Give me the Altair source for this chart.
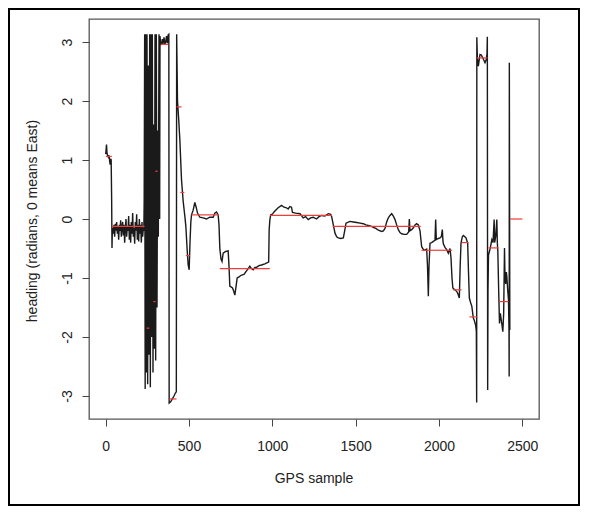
import altair as alt
import pandas as pd

# ---- heading trace (GPS sample index, heading in radians) ----
sample = [0, 2, 5, 8, 12, 16, 20, 24, 27, 30, 33, 36, 38, 40,
          42, 46, 50, 54, 58, 62, 66, 70, 74, 78, 82, 86, 90, 94, 98, 102, 106, 110,
          114, 118, 122, 126, 130, 134, 138, 142, 146, 150, 154, 158, 162, 166, 170,
          174, 178, 182, 186, 190, 194, 198, 202, 206, 210, 214, 218, 222, 226,
          229, 231, 234, 237, 240, 244, 248, 252, 256, 260, 264, 268, 272, 276, 280,
          284, 288, 292, 296, 300, 304, 308, 312, 316, 320, 324, 326,
          329, 335, 340, 345, 350, 355, 360, 365, 370, 375,
          379, 381, 390, 400, 410, 418, 424, 426, 431, 438, 445, 455, 465, 475, 481,
          489, 495, 501, 506, 511, 515, 525, 535, 543, 551, 565, 585, 605, 625, 645,
          655, 665, 675, 680, 685, 692, 698, 705, 720, 735, 740, 745, 752, 761, 768,
          775, 782, 789, 800, 815, 830, 845, 855, 865, 875, 885, 895, 905, 920, 935,
          955, 970, 978, 981, 985, 990, 1000, 1010, 1020, 1035, 1055, 1070, 1085,
          1095, 1105, 1115, 1121, 1140, 1166, 1185, 1200, 1215, 1230, 1245, 1265,
          1280, 1296, 1315, 1336, 1350, 1356, 1366, 1376, 1386, 1396, 1411, 1426,
          1434, 1442, 1466, 1486, 1506, 1526, 1546, 1561, 1576, 1591, 1606, 1621,
          1636, 1656, 1666, 1676, 1686, 1696, 1706, 1716, 1726, 1736, 1746, 1756,
          1766, 1776, 1791, 1806, 1818, 1822, 1826, 1836, 1846, 1856, 1866, 1876,
          1886, 1896, 1910, 1926, 1931, 1936, 1940, 1946, 1956, 1966, 1976, 1980,
          1984, 1996, 2006, 2014, 2020, 2024, 2026, 2036, 2046, 2056, 2066, 2072,
          2078, 2083, 2095, 2107, 2115, 2122, 2127, 2132, 2140, 2146, 2155, 2162,
          2172, 2177, 2182, 2190, 2197, 2206, 2212, 2220, 2224, 2226, 2227, 2230,
          2236, 2246, 2254, 2261, 2268, 2276, 2283, 2288, 2290, 2292, 2294, 2297,
          2307, 2317, 2324, 2331, 2334, 2340, 2347, 2350, 2353, 2358, 2363, 2368,
          2373, 2378, 2383, 2388, 2393, 2396, 2400, 2404, 2407, 2412, 2417, 2420,
          2421, 2422, 2423, 2425]

heading = [1.10, 1.15, 1.26, 1.12, 1.07, 1.05, 1.08, 0.98, 0.92, 1.02, 1.00, 0.30, -0.49, -0.20,
           -0.15, -0.25, -0.10, -0.30, -0.08, -0.20, -0.05, -0.25, -0.12, -0.35, -0.10, -0.20,
           -0.02, -0.30, -0.15, -0.05, -0.28, -0.10, -0.40, -0.15, 0.00, -0.30, -0.12, -0.20,
           0.05, -0.35, -0.10, -0.40, -0.05, -0.25, 0.10, -0.30, -0.15, -0.42, -0.05, -0.20,
           0.08, -0.35, -0.10, -0.38, 0.00, -0.25, -0.10, -0.40, -0.05, -0.30, -0.15,
           -0.20, 0.30, 3.13, -2.88, 3.13, -2.60, 3.13, -2.80, 2.60, -2.30, 3.13, -2.85,
           3.13, -2.00, 3.13, -2.60, 1.60, -2.20, 3.13, -2.40, 3.13, -1.50, 1.50, -0.30,
           3.13, 0.00, 3.10,
           3.00, 2.95, 3.05, 2.97, 3.08, 2.96, 3.00, 3.10, 2.98, 3.12,
           3.13, -3.12, -3.10, -3.05, -3.00, -2.95, -2.93, 3.13, 2.00, 1.70, 1.35, 0.67,
           0.30, 0.05, -0.12, -0.52, -0.78, -0.86, -0.40, -0.05, 0.07, 0.15, 0.28, 0.20,
           0.10, 0.03, 0.02, 0.00, 0.03, 0.03, 0.10, 0.12, 0.07, -0.10, -0.50, -0.68,
           -0.72, -0.58, -0.55, -0.54, -0.80, -1.14, -1.15, -1.17, -1.22, -1.29, -1.15,
           -1.00, -0.98, -0.95, -0.94, -0.88, -0.84, -0.80, -0.84, -0.86, -0.82, -0.82,
           -0.79, -0.78, -0.76, -0.74, -0.73, -0.18, -0.02, 0.07, 0.08, 0.12, 0.15, 0.19,
           0.23, 0.20, 0.19, 0.17, 0.21, 0.20, 0.11, 0.10, 0.09, 0.02, 0.04, -0.01, 0.02,
           0.03, 0.00, 0.04, 0.06, 0.05, 0.09, 0.08, 0.04, -0.10, -0.24, -0.30, -0.32,
           -0.33, -0.32, -0.20, -0.07, -0.04, -0.05, -0.06, -0.07, -0.08, -0.10, -0.11,
           -0.12, -0.14, -0.16, -0.19, -0.21, -0.20, -0.16, -0.05, 0.02, 0.06, 0.09,
           0.05, -0.01, -0.10, -0.18, -0.23, -0.25, -0.26, -0.26, -0.22, 0.00, -0.20,
           -0.18, -0.15, -0.10, -0.08, -0.10, -0.20, -0.47, -0.53, -0.51, -0.80, -1.31,
           -0.80, -0.41, -0.40, -0.38, -0.36, -0.01, -0.35, -0.33, -0.32, -0.30, -0.18,
           -0.38, -0.42, -0.48, -0.52, -0.58, -0.50, -0.66, -1.00, -1.17, -1.20, -1.23,
           -1.28, -1.34, -0.80, -0.41, -0.30, -0.28, -0.30, -0.32, -0.41, -0.90, -1.34,
           -1.42, -1.48, -1.68, -1.72, -1.80, -1.90, -3.11, 3.08, 2.75, 2.59, 2.79, 2.78,
           2.74, 2.70, 2.65, 2.70, 2.80, 3.09, -2.90, -1.20, -0.61, -0.50, -0.35, -0.40,
           -0.01, -0.40, -0.30, -0.01, -0.40, -0.55, -1.20, -1.77, -1.60, -1.70, -1.80,
           -1.91, -1.60, -0.49, -1.00, -1.10, -0.90, -0.97, -1.20, -1.37, -1.90, -2.67,
           2.65, 1.00, -1.88]

# ---- piecewise-constant fit (red segments) ----
seg_start = [2, 37, 245, 286, 298, 330, 383, 425, 448, 481, 515, 685, 986, 1362,
             1895, 2083, 2137, 2183, 2227, 2297, 2363, 2427]
seg_end = [37, 233, 262, 300, 312, 375, 425, 455, 472, 505, 680, 985, 1358, 1890,
           2078, 2135, 2177, 2230, 2291, 2357, 2417, 2500]
seg_value = [1.06, -0.125, -1.85, -1.40, 0.81, 2.96, -3.05, 1.90, 0.45, -0.62, 0.07,
             -0.84, 0.06, -0.125, -0.53, -1.20, -0.40, -1.66, 2.73, -0.49, -1.40, 0.0]

x_ticks = [0, 500, 1000, 1500, 2000, 2500]
y_ticks = [-3, -2, -1, 0, 1, 2, 3]

W, H = 450, 400
FONT = "Liberation Sans"

trace = pd.DataFrame({"sample": sample, "heading": heading})
segs = pd.DataFrame({"start": seg_start, "end": seg_end, "value": seg_value})

xscale = alt.Scale(domain=[-100, 2600], nice=False, zero=False)
yscale = alt.Scale(domain=[-3.39, 3.39], nice=False, zero=False)

line = alt.Chart(trace).mark_line(color="#1a1a1a", strokeWidth=1.4).encode(
    x=alt.X("sample:Q", scale=xscale,
            axis=alt.Axis(values=x_ticks, title=None, grid=False, domain=False,
                          tickSize=7, tickColor="#444444", labelFont=FONT,
                          labelFontSize=14, labelColor="#222222",
                          labelExpr="'' + datum.value",
                          labelBaseline="top", labelPadding=13, labelFlush=False)),
    y=alt.Y("heading:Q", scale=yscale,
            axis=alt.Axis(values=y_ticks, title=None, grid=False, domain=False,
                          tickSize=7, tickColor="#444444", labelFont=FONT,
                          labelFontSize=14, labelColor="#222222", labelAngle=270,
                          labelExpr="'' + datum.value",
                          labelAlign="center", labelBaseline="alphabetic",
                          labelPadding=11, labelFlush=False)),
    order="sample:Q",
)

red = alt.Chart(segs).mark_rule(color="#ee3b3b", strokeWidth=1.2).encode(
    x=alt.X("start:Q", scale=xscale),
    x2="end:Q",
    y=alt.Y("value:Q", scale=yscale),
)

one = alt.Data(values=[{"k": 1}])

xtitle = alt.Chart(one).mark_text(
    text="GPS sample", font=FONT, fontSize=14, color="#222222",
    align="center", baseline="alphabetic"
).encode(x=alt.value(W / 2), y=alt.value(464))

ytitle = alt.Chart(one).mark_text(
    text="heading (radians, 0 means East)", font=FONT, fontSize=14, color="#222222",
    align="center", baseline="alphabetic", angle=270
).encode(x=alt.value(-52), y=alt.value(202))

frame = alt.Chart(one).mark_rect(
    filled=False, stroke="#000000", strokeWidth=2
).encode(x=alt.value(-80), x2=alt.value(W + 40), y=alt.value(-10), y2=alt.value(H + 86))

chart = alt.layer(line, red, xtitle, ytitle, frame).properties(
    width=W, height=H,
    autosize=alt.AutoSizeParams(type="none"),
    padding={"left": 81, "top": 11, "right": 41, "bottom": 87},
    background="white",
).configure_view(stroke="#555555", strokeWidth=1.3)

chart.save("out.html", embed_options={"renderer": "svg", "actions": False})
